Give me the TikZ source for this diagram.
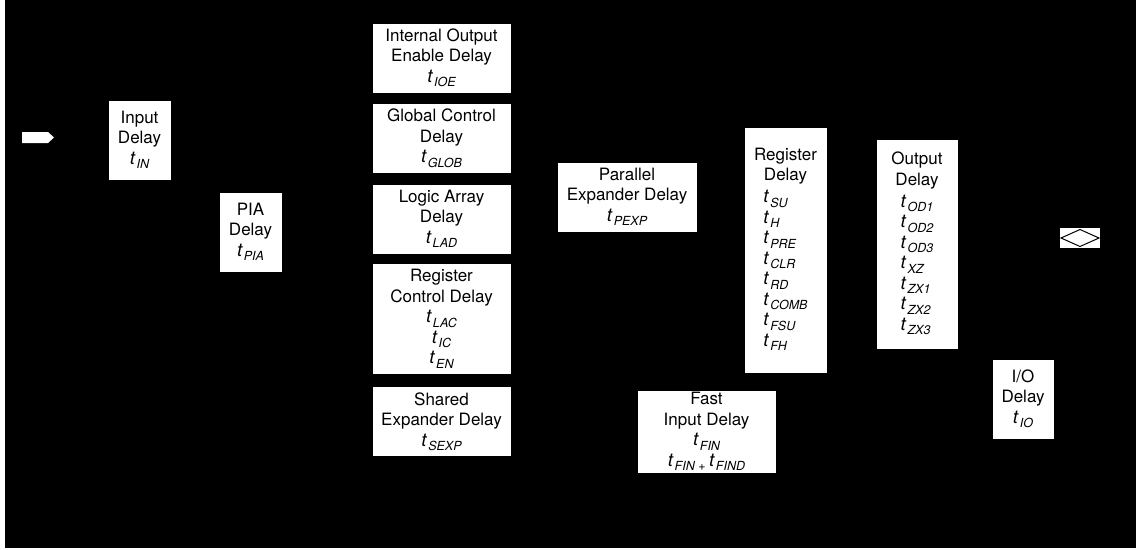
\documentclass[tikz,border=0pt]{standalone}
\usepackage{fontspec}
\setmainfont{TeX Gyre Heros}
\usetikzlibrary{positioning}
\newcommand{\tsym}[1]{{\fontsize{18.5}{20.5}\selectfont\textit{t}}\kern1pt\raisebox{-4.5pt}{\fontsize{12.5}{13}\selectfont\itshape #1}}
\newcommand{\tlist}[1]{\begin{tabular}{@{}l@{}}#1\end{tabular}}
\tikzset{
    pin color/.style={white},
    delaybox/.style={draw=black, fill=white, thin, inner sep=0pt, align=center},
    small box/.style={delaybox, minimum width=63, minimum height=80},
    column box/.style={delaybox, minimum width=139, minimum height=70},
}
\tikzstyle{every node}=[font=\fontsize{17}{20.5}\selectfont]
\begin{document}
\begin{tikzpicture}[x=1pt,y=-1pt]
    \useasboundingbox (0,0) rectangle (1140,549);
    \fill[white] (0,0) rectangle (1140,549);
    \fill[black] (5,0) rectangle (1136,548);
    % pins
    \fill[pin color] (22,132) -- (48,132) -- (54,137.5) -- (48,143) -- (22,143) -- cycle;
    \fill[pin color] (1060,228) rectangle (1100,248);
    \draw[black, line width=1pt] (1061,238) -- (1080,229.5) -- (1099,238) -- (1080,246.5) -- cycle;
    % left
    \node[small box] (indelay) at (139.5,140) {Input\\Delay\\\tsym{IN}};
    \node[small box] (pia) at (250.5,232) {PIA\\Delay\\\tsym{PIA}};
    % logic array column
    \node[column box] (ioe) at (441.5,58) {Internal Output\\Enable Delay\\\tsym{IOE}};
    \node[column box, below=10pt of ioe] (glob) {Global Control\\Delay\\\tsym{GLOB}};
    \node[column box, below=10pt of glob] (lad) {Logic Array\\Delay\\\tsym{LAD}};
    \node[column box, minimum height=111, below=9pt of lad] (regctrl) {Register\\Control Delay\\\tsym{LAC}\\\tsym{IC}\\\tsym{EN}};
    \node[column box, below=12pt of regctrl] (sexp) {Shared\\Expander Delay\\\tsym{SEXP}};
    % middle
    \node[column box, minimum width=140] (pexp) at (627,197) {Parallel\\Expander Delay\\\tsym{PEXP}};
    \node[delaybox, minimum width=83, minimum height=246] (regdelay) at (785.5,250)
        {Register\\Delay\\[3pt]\tlist{\tsym{SU}\\\tsym{H}\\\tsym{PRE}\\\tsym{CLR}\\\tsym{RD}\\\tsym{COMB}\\\tsym{FSU}\\\tsym{FH}}};
    \node[column box, minimum height=83] (fin) at (706.5,431.5) {Fast\\Input Delay\\\tsym{FIN}\\\tsym{FIN + }\tsym{FIND}};
    % right
    \node[delaybox, minimum width=82, minimum height=210] (outdelay) at (917,244)
        {Output\\Delay\\[3pt]\tlist{\tsym{OD1}\\\tsym{OD2}\\\tsym{OD3}\\\tsym{XZ}\\\tsym{ZX1}\\\tsym{ZX2}\\\tsym{ZX3}}};
    \node[small box, minimum width=62] (iodelay) at (1023,399) {I/O\\Delay\\\tsym{IO}};
\end{tikzpicture}
\end{document}
